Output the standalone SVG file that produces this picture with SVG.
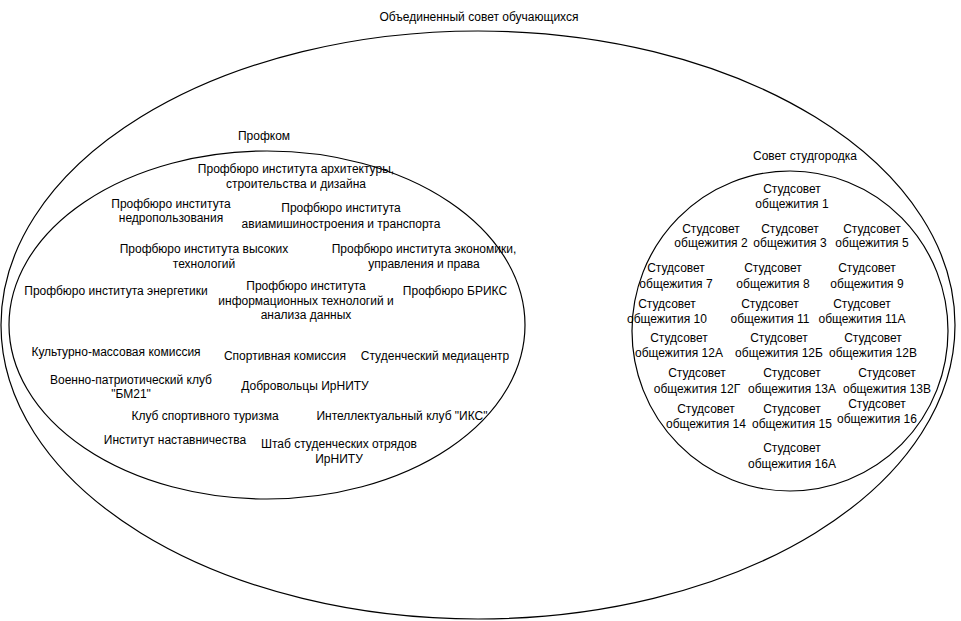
<svg xmlns="http://www.w3.org/2000/svg" width="961" height="621" viewBox="0 0 961 621">
<style>
.e{fill:none;stroke:#000;stroke-width:1.2}
text{font-family:"Liberation Sans",Arial,Helvetica,sans-serif;font-size:12px;fill:#000;text-anchor:middle}
</style>
<rect width="961" height="621" fill="#fff"/>
<g id="council">
<ellipse class="e" cx="478" cy="325" rx="477" ry="294"/>
<text x="479" y="21">Объединенный совет обучающихся</text>
</g>
<g id="profkom">
<ellipse class="e" cx="267" cy="325" rx="258" ry="174"/>
<text x="264" y="140">Профком</text>
</g>
<g id="pb-arch"><text x="296" y="173">Профбюро института архитектуры,</text><text x="296" y="188">строительства и дизайна</text></g>
<g id="pb-nedra"><text x="171" y="208">Профбюро института</text><text x="171" y="222">недропользования</text></g>
<g id="pb-avia"><text x="341" y="212">Профбюро института</text><text x="341" y="228">авиамишиностроения и транспорта</text></g>
<g id="pb-high"><text x="204" y="253">Профбюро института высоких</text><text x="204" y="268">технологий</text></g>
<g id="pb-econ"><text x="424" y="253">Профбюро института экономики,</text><text x="424" y="268">управления и права</text></g>
<g id="pb-energy"><text x="116" y="295">Профбюро института энергетики</text></g>
<g id="pb-it"><text x="306" y="290">Профбюро института</text><text x="306" y="305">информационных технологий и</text><text x="306" y="319">анализа данных</text></g>
<g id="pb-brics"><text x="455" y="295">Профбюро БРИКС</text></g>
<g id="kmk"><text x="116" y="356">Культурно-массовая комиссия</text></g>
<g id="sport"><text x="285" y="360">Спортивная комиссия</text></g>
<g id="media"><text x="435" y="360">Студенческий медиацентр</text></g>
<g id="bm21"><text x="131" y="384">Военно-патриотический клуб</text><text x="131" y="398">"БМ21"</text></g>
<g id="volunteers"><text x="305" y="390">Добровольцы ИрНИТУ</text></g>
<g id="tourism"><text x="205" y="420">Клуб спортивного туризма</text></g>
<g id="iks"><text x="402" y="420">Интеллектуальный клуб "ИКС"</text></g>
<g id="mentor"><text x="175" y="444">Институт наставничества</text></g>
<g id="sso"><text x="339" y="448">Штаб студенческих отрядов</text><text x="339" y="463">ИрНИТУ</text></g>
<g id="studgorodok">
<ellipse class="e" cx="790" cy="331" rx="158" ry="160"/>
<text x="805" y="160">Совет студгородка</text>
</g>
<g id="d1"><text x="792" y="193">Студсовет</text><text x="792" y="208">общежития 1</text></g>
<g id="d2"><text x="711" y="233">Студсовет</text><text x="711" y="247">общежития 2</text></g>
<g id="d3"><text x="790" y="233">Студсовет</text><text x="790" y="247">общежития 3</text></g>
<g id="d5"><text x="872" y="233">Студсовет</text><text x="872" y="247">общежития 5</text></g>
<g id="d7"><text x="676" y="272">Студсовет</text><text x="676" y="288">общежития 7</text></g>
<g id="d8"><text x="773" y="272">Студсовет</text><text x="773" y="288">общежития 8</text></g>
<g id="d9"><text x="867" y="272">Студсовет</text><text x="867" y="288">общежития 9</text></g>
<g id="d10"><text x="667" y="308">Студсовет</text><text x="667" y="323">общежития 10</text></g>
<g id="d11"><text x="770" y="308">Студсовет</text><text x="770" y="323">общежития 11</text></g>
<g id="d11a"><text x="862" y="308">Студсовет</text><text x="862" y="323">общежития 11А</text></g>
<g id="d12a"><text x="679" y="342">Студсовет</text><text x="679" y="357">общежития 12А</text></g>
<g id="d12b"><text x="779" y="342">Студсовет</text><text x="779" y="357">общежития 12Б</text></g>
<g id="d12v"><text x="873" y="342">Студсовет</text><text x="873" y="357">общежития 12В</text></g>
<g id="d12g"><text x="697" y="377">Студсовет</text><text x="697" y="393">общежития 12Г</text></g>
<g id="d13a"><text x="792" y="377">Студсовет</text><text x="792" y="393">общежития 13А</text></g>
<g id="d13v"><text x="887" y="377">Студсовет</text><text x="887" y="393">общежития 13В</text></g>
<g id="d14"><text x="706" y="413">Студсовет</text><text x="706" y="428">общежития 14</text></g>
<g id="d15"><text x="792" y="413">Студсовет</text><text x="792" y="428">общежития 15</text></g>
<g id="d16"><text x="877" y="408">Студсовет</text><text x="877" y="423">общежития 16</text></g>
<g id="d16a"><text x="792" y="452">Студсовет</text><text x="792" y="468">общежития 16А</text></g>
<g id="connectors"></g>
</svg>
